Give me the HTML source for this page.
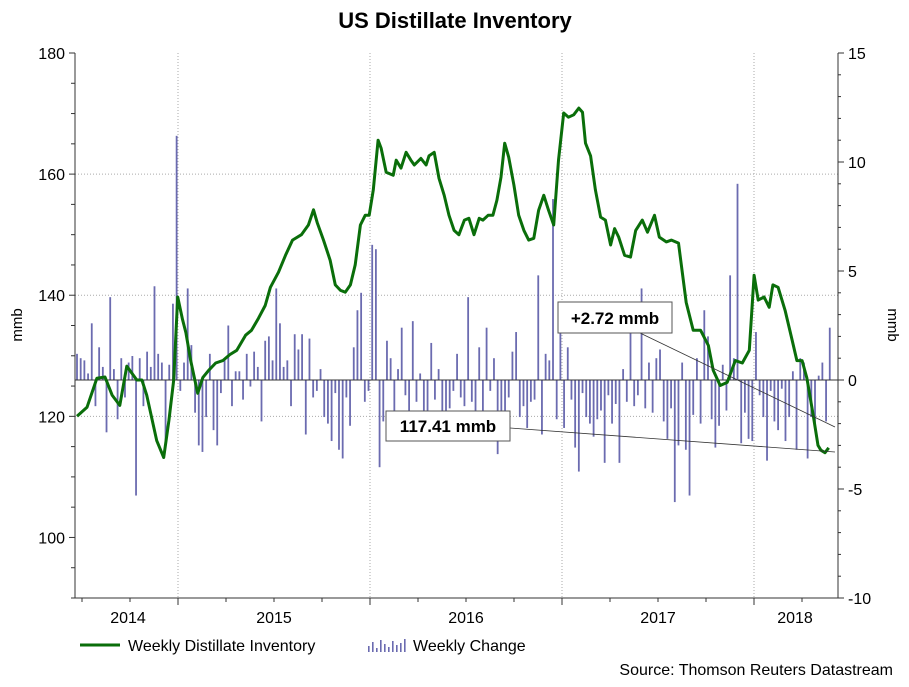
<!DOCTYPE html>
<html><head><meta charset="utf-8"><style>
body{margin:0;background:#fff;font-family:"Liberation Sans",sans-serif}
svg text{font-family:"Liberation Sans",sans-serif}
</style></head><body>
<svg id="c" width="909" height="682" xmlns="http://www.w3.org/2000/svg">
<rect width="909" height="682" fill="#fff"/>
<text x="455" y="28" text-anchor="middle" font-size="22" font-weight="bold">US Distillate Inventory</text>
<g id="grid"></g><g id="bars"></g><g id="line"></g><g id="axes"></g>
<text x="22" y="325" font-size="15" text-anchor="middle" transform="rotate(-90 22 325)">mmb</text>
<text x="888" y="325" font-size="15" text-anchor="middle" transform="rotate(90 888 325)">mmb</text>
<g>
<line x1="640" y1="333" x2="835" y2="427" stroke="#333" stroke-width="0.8"/>
<rect x="558" y="302" width="114" height="31" fill="#fff" stroke="#555"/>
<text x="615" y="324" font-size="17" font-weight="bold" text-anchor="middle">+2.72 mmb</text></g>
<g>
<line x1="510" y1="428" x2="835" y2="452" stroke="#333" stroke-width="0.8"/>
<rect x="386" y="411" width="124" height="30" fill="#fff" stroke="#555"/>
<text x="448" y="432" font-size="17" font-weight="bold" text-anchor="middle">117.41 mmb</text></g>
<g><line x1="80" y1="645" x2="120" y2="645" stroke="#0a6e0a" stroke-width="3"/><text x="128" y="651" font-size="16">Weekly Distillate Inventory</text></g>
<g id="lgc"><text x="413" y="651" font-size="16">Weekly Change</text></g>
<text x="893" y="675" font-size="16" text-anchor="end">Source: Thomson Reuters Datastream</text>
</svg>
<script>
const years=["2014","2015","2016","2017","2018"];
const leftTicks=[100,120,140,160,180];
const rightTicks=[-10,-5,0,5,10,15];
const invWeeks=[0,2.7,5.4,7.6,9.5,11.6,13.5,16.2,17.6,18.9,21.6,23.5,24.9,26.2,27.3,28.6,29.5,30.8,32.7,34.1,35.7,37.6,39.5,41.4,43.3,45.7,47.3,49.2,51,52.4,54.6,56.5,58.4,60.8,62.7,64.1,65.1,66.8,68.6,70,71.4,72.7,74.1,75.4,76.8,78.1,79.2,80.3,81.6,82.4,83.8,85.7,86.5,87.8,89.2,90.5,91.4,93.2,94.6,95.4,96.8,98.1,99.5,100.8,102.2,103.5,105,106.2,107.6,109,110,111.4,112.7,113.8,114.9,115.9,117,118.4,119.7,121.1,122.4,123.8,125.1,126.5,127.8,129.2,130.5,131.9,133.2,134.6,136,137,137.8,139.2,140.5,141.9,143.2,144.6,145.7,146.8,148.4,150,151.4,153.2,154.6,156.5,157.8,159.7,161.1,163,165.1,167,169,171.1,172.4,174.3,176.2,178.4,180.3,182.2,183.5,184.6,186.2,187.6,188.6,190,191.9,193.8,195.1,196.5,197.8,199.5,200.8,201.6,202.7,203.7];
const inventory=[120,121.5,126.3,126.5,123.5,121.8,128.3,126,126,123.5,116,113.2,119.3,126,139.7,136,133.8,129.2,123.8,126.4,127.6,128.8,129.2,130.2,130.9,133.4,134.2,136.2,138.3,141.3,143.8,146.6,149.1,150,151.6,154.1,152,149.1,145.8,141.7,140.8,140.5,141.7,145,151.6,153.2,153.2,157.4,165.6,164.3,160.3,159.8,162.3,161,163.6,162.3,161.5,162.6,161.5,163,163.6,159.3,156.5,153.2,150.7,150,152.4,152.7,150,152.7,152.4,153.2,153.2,155.7,159.5,165.1,162.8,158.2,153.2,150.7,149.1,149.4,154,156.5,154,151.6,162.3,170.1,169.4,169.8,170.9,170.2,165.1,163,157.4,152.9,152.4,148.3,151,149.6,146.6,146.3,150.7,152.4,150.4,153.2,149.6,148.8,149.1,148.6,138.8,134.2,134.2,131.7,127.6,125.1,125.6,129.2,128.8,130.9,143.3,139.2,139.7,138,141.7,141.3,137.5,132.6,129.2,129.2,126.3,120.2,115.2,114.4,114,114.8,116.5,114.2];
const changes=[1.2,1.0,0.9,0.3,2.6,-1.2,1.5,0.6,-2.4,3.8,0.5,-1.8,1.0,-0.8,0.8,1.1,-5.3,1.0,-1.2,1.3,0.6,4.3,1.2,0.8,-3.0,0.7,
3.5,11.2,-0.5,0.8,4.2,1.6,-1.5,-3.0,-3.3,-1.7,1.2,-2.3,-3.0,-0.6,1.0,2.5,-1.2,0.4,0.4,-0.9,1.2,-0.3,1.3,0.6,-1.9,1.8,
2.0,0.9,4.2,2.6,0.6,0.9,-1.2,2.1,1.4,2.1,-2.5,1.9,-0.8,-0.5,0.5,-1.7,-2.0,-2.8,-0.6,-3.2,-3.6,-0.8,-2.1,1.5,3.2,4.0,
-1.0,-0.5,6.2,6.0,-4.0,-1.9,1.8,1.0,-2.2,0.5,2.4,-0.7,-2.5,2.7,-1.0,0.3,-1.6,-2.2,1.7,-0.9,0.5,-1.7,-2.0,-1.3,-0.5,1.2,
-0.8,-1.2,3.8,-1.0,-2.0,1.5,-1.5,2.4,-0.5,1.0,-3.4,-2.6,-1.5,-0.8,1.3,2.2,-1.7,-1.2,-2.2,-1.0,-0.9,4.8,-2.5,1.2,0.9,8.3,
-1.8,2.3,-2.2,1.5,-0.9,-3.1,-4.2,-0.6,-1.7,-2.0,-2.6,-1.8,-1.4,-3.8,-0.7,-2.0,-1.1,-3.8,0.5,-1.0,2.2,-1.2,-0.7,4.2,-1.3,0.8,
-1.5,1.0,1.4,-1.9,-2.7,-1.3,-5.6,-3.0,0.8,-3.2,-5.3,-1.6,1.0,-2.0,3.2,2.0,-1.8,-3.1,-2.1,0.7,-1.4,4.8,1.0,9.0,-2.9,-1.5,
-2.7,-2.8,2.2,-0.7,-1.7,-3.7,-0.5,-1.9,-2.3,-0.4,-2.8,-1.7,0.4,-3.2,1.0,0.8,-3.6,-1.7,-2.3,0.2,0.8,-1.9,2.4];
const NS="http://www.w3.org/2000/svg";
const X0=75,X1=838,YT=53,YB=598,WK=3.69,YEAR0=178,YPX=192;
const xw=w=>X0+2+w*WK;
const yl=v=>YT+(180-v)*(YB-YT)/90;
const yr=v=>YT+(15-v)*(YB-YT)/25;
function mk(p,tag,a){const e=document.createElementNS(NS,tag);for(const k in a)e.setAttribute(k,a[k]);p.appendChild(e);return e;}
const G=document.getElementById('grid'),B=document.getElementById('bars'),L=document.getElementById('line'),A=document.getElementById('axes');
leftTicks.forEach(v=>{if(v>100&&v<180){const g=mk(G,'line',{x1:X0,x2:X1,y1:yl(v),y2:yl(v),stroke:'#aaa','stroke-dasharray':'1 2'});

}});
years.slice(1).forEach((y,i)=>{const g=mk(G,'line',{x1:YEAR0+i*YPX,x2:YEAR0+i*YPX,y1:YT,y2:YB,stroke:'#aaa','stroke-dasharray':'1 2'});

});
changes.forEach((c,i)=>{const x=xw(i);const r=mk(B,'rect',{x:x-0.9,width:1.8,y:Math.min(yr(c),yr(0)),height:Math.abs(yr(c)-yr(0)),fill:'#6b6bb0'});

});
const zl=mk(B,'line',{x1:X0,x2:X1,y1:yr(0),y2:yr(0),stroke:'#333','stroke-width':1});


const pts=invWeeks.map((w,i)=>xw(w).toFixed(1)+','+yl(inventory[i]).toFixed(1)).join(' ');
const pl=mk(L,'polyline',{points:pts,fill:'none',stroke:'#0a6e0a','stroke-width':3,'stroke-linejoin':'round'});


mk(A,'line',{x1:X0,x2:X0,y1:YT,y2:YB,stroke:'#333'});
mk(A,'line',{x1:X1,x2:X1,y1:YT,y2:YB,stroke:'#333'});
mk(A,'line',{x1:X0,x2:X1,y1:YB,y2:YB,stroke:'#333'});
for(let v=90;v<=180;v+=5){mk(A,'line',{x1:X0-(v%20==0?6:4),x2:X0,y1:yl(v),y2:yl(v),stroke:'#333'});}
leftTicks.forEach(v=>{const t=mk(A,'text',{x:X0-10,y:yl(v)+6,'font-size':16,'text-anchor':'end'});t.textContent=v;

});
for(let v=-10;v<=15;v+=1){mk(A,'line',{x1:X1,x2:X1+(v%5==0?6:3),y1:yr(v),y2:yr(v),stroke:'#333'});}
rightTicks.forEach(v=>{const t=mk(A,'text',{x:X1+10,y:yr(v)+6,'font-size':16});t.textContent=v;

});
for(let q=-2;q<=16;q++){const x=YEAR0+q*YPX/4;if(x<X0||x>X1)continue;mk(A,'line',{x1:x,x2:x,y1:YB,y2:YB+(q%4==0?7:4),stroke:'#333'});}
years.forEach((y,i)=>{let x=YEAR0+(i-0.5)*YPX;if(i==0)x=128;if(i==4)x=795;const t=mk(A,'text',{x:x,y:YB+25,'font-size':16,'text-anchor':'middle'});t.textContent=y;

});
const lg=document.getElementById('lgc');
[6,10,4,12,8,5,11,7,9,13].forEach((h,i)=>{mk(lg,'rect',{x:368+i*4,y:652-h,width:1.6,height:h,fill:'#6b6bb0'});});
</script>
</body></html>
